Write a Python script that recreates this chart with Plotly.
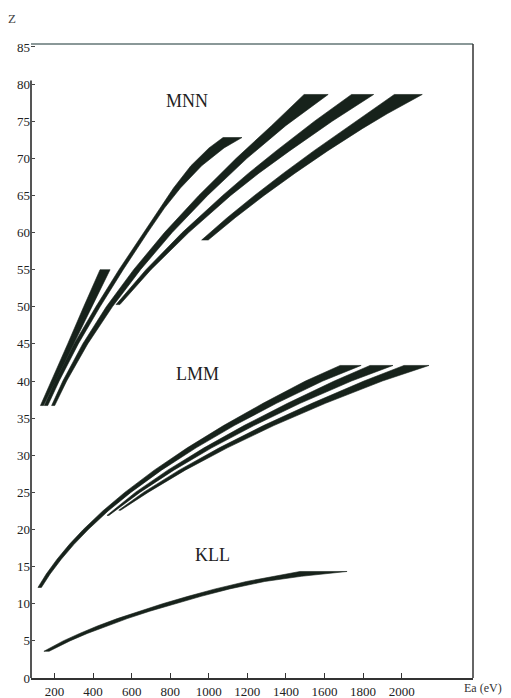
import plotly.graph_objects as go

# ---------------- data ----------------
# Each band: atomic number Z (y) and left / right energy edges Ea (eV) (x)
mnn_a_z = [36.7, 40, 45, 50, 55]
mnn_a_left = [127, 184, 268, 351, 436]
mnn_a_right = [143, 205, 299, 393, 488]

mnn_b_z = [36.7, 40, 45, 50, 55, 60, 63.3, 66, 69, 71.4, 72.8]
mnn_b_left = [147, 204, 301, 414, 534, 661, 746, 817, 907, 1001, 1074]
mnn_b_right = [165, 224, 323, 436, 556, 683, 770, 853, 963, 1079, 1172]

mnn_c_z = [36.7, 40, 45, 50, 55, 60, 65, 70, 74.4, 78.6]
mnn_c_left = [185, 243, 346, 468, 610, 770, 948, 1142, 1325, 1494]
mnn_c_right = [201, 263, 372, 500, 646, 810, 994, 1198, 1399, 1619]

mnn_d_z = [50.3, 55, 60, 65, 68, 71, 75, 78.6]
mnn_d_left = [519, 674, 862, 1072, 1206, 1349, 1548, 1740]
mnn_d_right = [539, 700, 896, 1114, 1260, 1419, 1640, 1855]

mnn_e_z = [59, 62, 65, 68, 71, 74, 76, 78.6]
mnn_e_left = [963, 1095, 1237, 1387, 1544, 1708, 1819, 1962]
mnn_e_right = [997, 1137, 1287, 1447, 1616, 1796, 1925, 2107]

lmm_1_z = [12.2, 14, 16, 18, 20, 22.5, 25, 28, 31, 34, 37, 40, 42.1]
lmm_1_left = [114, 157, 213, 277, 349, 450, 564, 717, 888, 1076, 1281, 1501, 1681]
lmm_1_right = [132, 177, 235, 301, 375, 478, 596, 755, 934, 1132, 1351, 1591, 1790]

lmm_2_z = [21.9, 25, 28, 31, 34, 37, 40, 42.1]
lmm_2_left = [472, 619, 787, 975, 1182, 1408, 1650, 1836]
lmm_2_right = [482, 643, 819, 1015, 1234, 1474, 1740, 1955]

lmm_3_z = [22.6, 25, 28, 31, 34, 37, 40, 42.1]
lmm_3_left = [533, 661, 846, 1054, 1283, 1535, 1804, 2012]
lmm_3_right = [543, 685, 878, 1096, 1337, 1605, 1900, 2142]

kll_z = [3.6, 5, 6, 7, 8, 9, 10, 11, 12, 13, 13.7, 14.35]
kll_left = [145, 245, 330, 422, 525, 637, 760, 892, 1033, 1195, 1345, 1473]
kll_right = [172, 280, 370, 468, 577, 694, 822, 960, 1108, 1290, 1480, 1717]

group_labels = ["MNN", "LMM", "KLL"]
group_label_x = [887, 939, 1017]
group_label_z = [77.7, 40.9, 16.6]

x_ticks = [200, 400, 600, 800, 1000, 1200, 1400, 1600, 1800, 2000]
y_ticks = [0, 5, 10, 15, 20, 25, 30, 35, 40, 45, 50, 55, 60, 65, 70, 75, 80, 85]

# ---------------- figure ----------------
INK = "#17221b"
SERIF = "Liberation Serif, Times New Roman, serif"

bands = [
    (mnn_a_z, mnn_a_left, mnn_a_right),
    (mnn_b_z, mnn_b_left, mnn_b_right),
    (mnn_c_z, mnn_c_left, mnn_c_right),
    (mnn_d_z, mnn_d_left, mnn_d_right),
    (mnn_e_z, mnn_e_left, mnn_e_right),
    (lmm_1_z, lmm_1_left, lmm_1_right),
    (lmm_2_z, lmm_2_left, lmm_2_right),
    (lmm_3_z, lmm_3_left, lmm_3_right),
    (kll_z, kll_left, kll_right),
]

fig = go.Figure()
for z, left, right in bands:
    xs = list(left) + list(reversed(right)) + [left[0]]
    ys = list(z) + list(reversed(z)) + [z[0]]
    fig.add_trace(go.Scatter(
        x=xs, y=ys, mode="lines", fill="toself",
        fillcolor=INK, line=dict(color=INK, width=0.6),
        hoverinfo="skip", showlegend=False,
    ))

for txt, gx, gz in zip(group_labels, group_label_x, group_label_z):
    fig.add_annotation(x=gx, y=gz, xref="x", yref="y", text=txt, showarrow=False,
                       font=dict(family=SERIF, size=18, color="#222"))

fig.add_annotation(x=-0.043, y=1.041, xref="paper", yref="paper", text="Z", showarrow=False,
                   xanchor="center", yanchor="middle",
                   font=dict(family=SERIF, size=13, color="#444"))
fig.add_annotation(x=1.023, y=-0.016, xref="paper", yref="paper", text="Ea (eV)", showarrow=False,
                   xanchor="center", yanchor="middle",
                   font=dict(family=SERIF, size=12, color="#333"))

# frame lines
fig.add_shape(type="line", xref="paper", yref="y", x0=0, x1=0, y0=0, y1=80.5,
              line=dict(color="#555", width=2))
fig.add_shape(type="line", xref="paper", yref="paper", x0=0, x1=1, y0=1, y1=1,
              line=dict(color="#8a9898", width=2))
fig.add_shape(type="line", xref="paper", yref="paper", x0=1, x1=1, y0=0, y1=1,
              line=dict(color="#333", width=1.5))

fig.update_layout(
    width=511, height=698,
    margin=dict(l=31, r=38, t=44, b=20, autoexpand=False),
    paper_bgcolor="white", plot_bgcolor="white",
    showlegend=False,
    xaxis=dict(range=[78, 2370], tickvals=x_ticks, ticks="inside", ticklen=5,
               tickcolor="#333", tickwidth=1, showline=True, linecolor="#333", linewidth=2,
               showgrid=False, zeroline=False, automargin=False,
               tickfont=dict(family=SERIF, size=13, color="#222")),
    yaxis=dict(range=[0, 85.4], tickvals=y_ticks, ticks="inside", ticklen=4,
               tickcolor="#444", tickwidth=1, showline=False, showgrid=False, zeroline=False,
               automargin=False,
               tickfont=dict(family=SERIF, size=13, color="#222")),
)

fig.write_html("out.html")
